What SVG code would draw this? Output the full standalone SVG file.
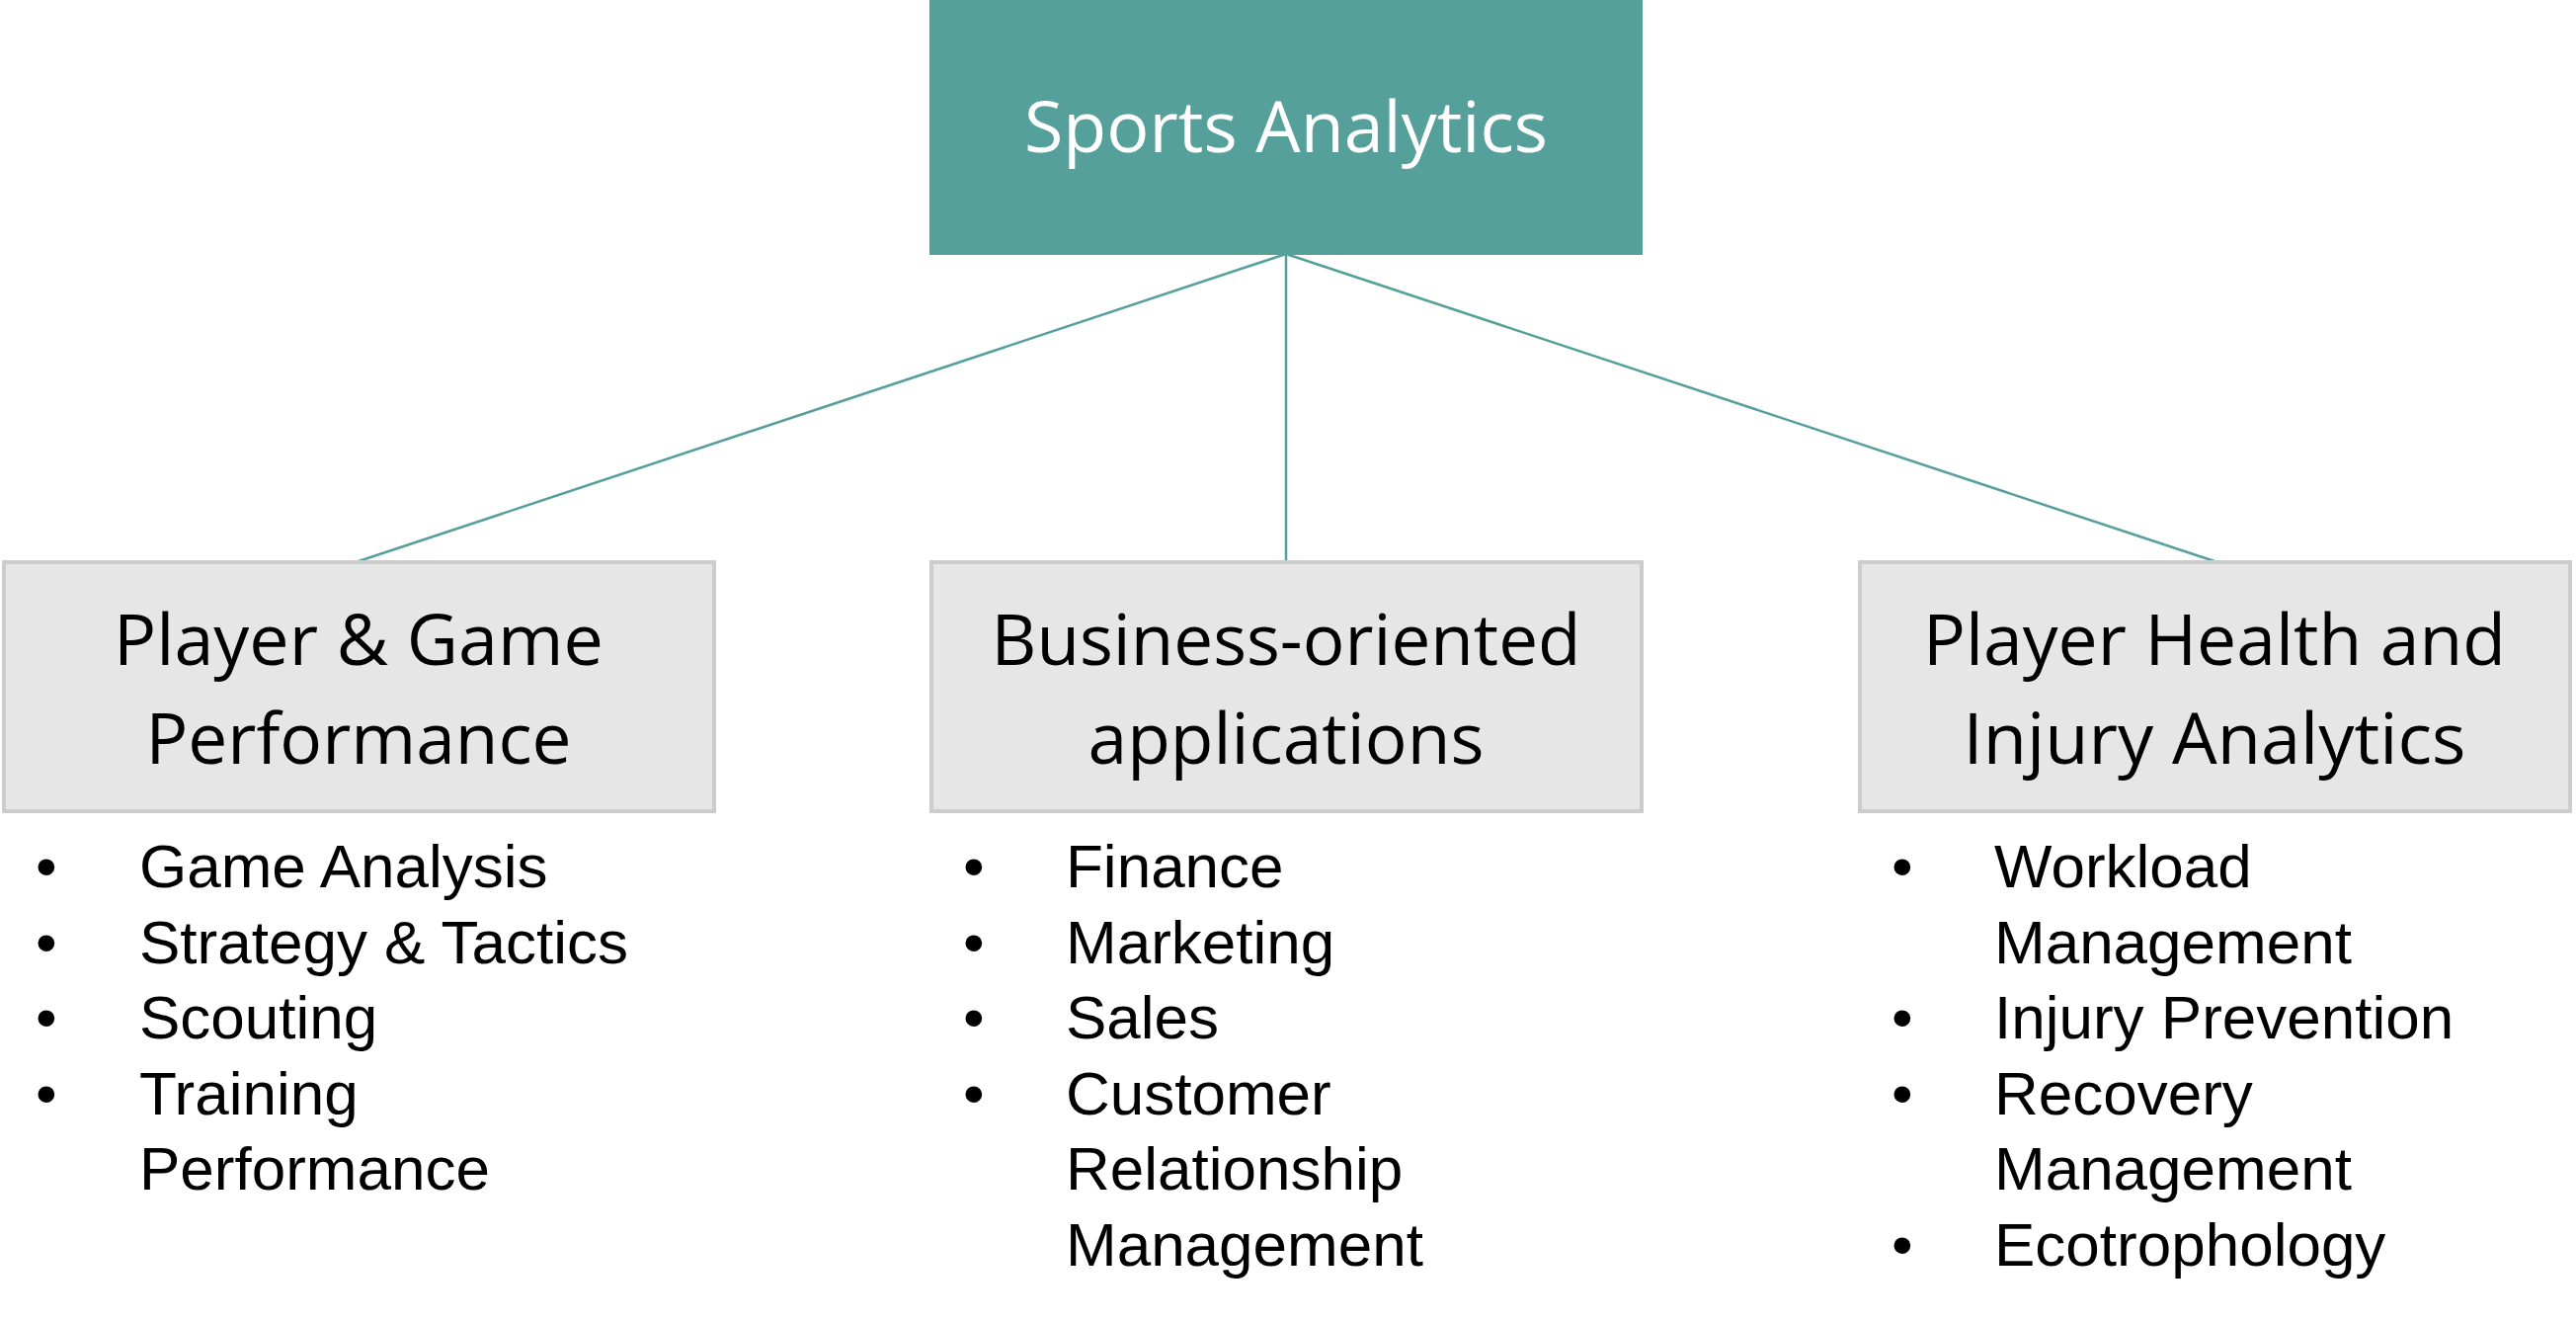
<svg xmlns="http://www.w3.org/2000/svg" width="2608" height="1339" viewBox="0 0 2608 1339">
<style>
.h{font-family:"Open Sans","Noto Sans",sans-serif;font-size:72px;fill:#000;text-anchor:middle}
.b{font-family:"Liberation Sans",Arial,sans-serif;font-size:62px;fill:#000}
.box{fill:#e6e6e6;stroke:#cccccc;stroke-width:4}
.c{stroke:#55a09b;stroke-width:2.5;fill:none}
</style>
<rect width="2608" height="1339" fill="#fff"/>
<g id="connectors">
<line class="c" x1="1302" y1="257" x2="363" y2="568"/>
<line class="c" x1="1302" y1="257" x2="1302" y2="568"/>
<line class="c" x1="1302" y1="257" x2="2242" y2="568"/>
</g>
<g id="root">
<rect x="941" y="0" width="722" height="258" fill="#55a09b"/>
<text class="h" x="1302" y="154" style="fill:#fff" textLength="530" lengthAdjust="spacingAndGlyphs">Sports Analytics</text>
</g>
<g id="n1">
<rect class="box" x="4" y="569" width="719" height="252"/>
<text class="h" x="363" y="673" textLength="496" lengthAdjust="spacingAndGlyphs">Player &amp; Game</text>
<text class="h" x="363" y="773" textLength="431" lengthAdjust="spacingAndGlyphs">Performance</text>
<text class="b" x="36" y="898">•</text><text class="b" x="141" y="898">Game Analysis</text>
<text class="b" x="36" y="975">•</text><text class="b" x="141" y="975">Strategy &amp; Tactics</text>
<text class="b" x="36" y="1051">•</text><text class="b" x="141" y="1051">Scouting</text>
<text class="b" x="36" y="1128">•</text><text class="b" x="141" y="1128">Training</text>
<text class="b" x="141" y="1204">Performance</text>
</g>
<g id="n2">
<rect class="box" x="943" y="569" width="719" height="252"/>
<text class="h" x="1302" y="673" textLength="597" lengthAdjust="spacingAndGlyphs">Business-oriented</text>
<text class="h" x="1302" y="773" textLength="401" lengthAdjust="spacingAndGlyphs">applications</text>
<text class="b" x="975" y="898">•</text><text class="b" x="1079" y="898">Finance</text>
<text class="b" x="975" y="975">•</text><text class="b" x="1079" y="975">Marketing</text>
<text class="b" x="975" y="1051">•</text><text class="b" x="1079" y="1051">Sales</text>
<text class="b" x="975" y="1128">•</text><text class="b" x="1079" y="1128">Customer</text>
<text class="b" x="1079" y="1204">Relationship</text>
<text class="b" x="1079" y="1281">Management</text>
</g>
<g id="n3">
<rect class="box" x="1883" y="569" width="719" height="252"/>
<text class="h" x="2242" y="673" textLength="590" lengthAdjust="spacingAndGlyphs">Player Health and</text>
<text class="h" x="2242" y="773" textLength="509" lengthAdjust="spacingAndGlyphs">Injury Analytics</text>
<text class="b" x="1915" y="898">•</text><text class="b" x="2019" y="898">Workload</text>
<text class="b" x="2019" y="975">Management</text>
<text class="b" x="1915" y="1051">•</text><text class="b" x="2019" y="1051">Injury Prevention</text>
<text class="b" x="1915" y="1128">•</text><text class="b" x="2019" y="1128">Recovery</text>
<text class="b" x="2019" y="1204">Management</text>
<text class="b" x="1915" y="1281">•</text><text class="b" x="2019" y="1281">Ecotrophology</text>
</g>
</svg>
